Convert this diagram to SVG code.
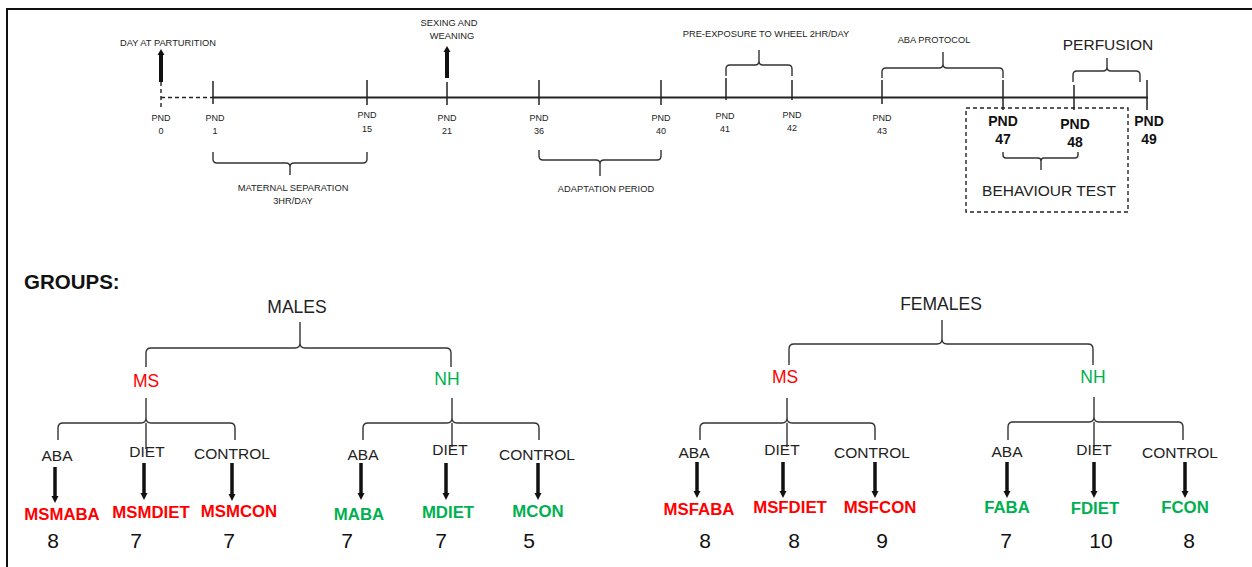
<svg xmlns="http://www.w3.org/2000/svg" width="1252" height="567" viewBox="0 0 1252 567">
<defs>
<style>
text{font-family:"Liberation Sans",Arial,sans-serif;text-anchor:middle;fill:#222}
.s{font-size:9.3px;fill:#222}
.p{font-size:9px;fill:#222}
.pb{font-size:14px;font-weight:bold;fill:#111}
.big{font-size:15.5px}
.sex{font-size:17.5px}
.cat{font-size:15.5px;fill:#222}
.red{fill:#FF0000}
.grn{fill:#00B050}
.g{font-size:16.8px;font-weight:bold}
.n{font-size:21px;fill:#111}
.br{fill:none;stroke:#333;stroke-width:1.4}
.tick{stroke:#222;stroke-width:1.5}
.arr{stroke:#111;stroke-width:3.5}
.arrt{stroke:#111;stroke-width:4}
.dash{fill:none;stroke:#222;stroke-width:1.4;stroke-dasharray:4 3}
</style>
</defs>
<rect width="1252" height="567" fill="#fff"/>
<path d="M7,567 V9 H1252" fill="none" stroke="#111" stroke-width="2"/>

<g id="connectors">
<line x1="213" y1="97.5" x2="1148" y2="97.5" stroke="#222" stroke-width="2"/>
<line x1="161" y1="97.5" x2="213" y2="97.5" class="dash"/>
<line x1="161" y1="82" x2="161" y2="107" class="dash"/>
<line x1="213" y1="81" x2="213" y2="104" class="tick"/>
<line x1="367" y1="80" x2="367" y2="105" class="tick"/>
<line x1="447" y1="82" x2="447" y2="105" class="tick"/>
<line x1="539" y1="80" x2="539" y2="105" class="tick"/>
<line x1="661" y1="80" x2="661" y2="105" class="tick"/>
<line x1="726" y1="78" x2="726" y2="100" class="tick"/>
<line x1="792" y1="80" x2="792" y2="100" class="tick"/>
<line x1="882" y1="80" x2="882" y2="104" class="tick"/>
<line x1="1003" y1="80" x2="1003" y2="110" class="tick"/>
<line x1="1074" y1="85" x2="1074" y2="110" class="tick"/>
<line x1="1147" y1="80" x2="1147" y2="110" class="tick"/>
<line x1="161" y1="82" x2="161" y2="54" class="arrt"/>
<polygon points="157.5,55 164.5,55 161,49" fill="#111"/>
<line x1="447" y1="78" x2="447" y2="51" class="arrt"/>
<polygon points="443.5,52 450.5,52 447,46" fill="#111"/>
<path class="br" d="M213,152 V159 Q213,163 217,163 H286 Q290,163 290,167 V175 M290,167 Q290,163 294,163 H363 Q367,163 367,159 V152"/>
<path class="br" d="M539,150 V156 Q539,160 543,160 H596 Q600,160 600,164 V176 M600,164 Q600,160 604,160 H657 Q661,160 661,156 V150"/>
<path class="br" d="M726,76 V69 Q726,65 730,65 H755 Q759,65 759,61 V50 M759,61 Q759,65 763,65 H788 Q792,65 792,69 V76"/>
<path class="br" d="M882,78 V72 Q882,68 886,68 H939 Q943,68 943,64 V52 M943,64 Q943,68 947,68 H999 Q1003,68 1003,72 V78"/>
<path class="br" d="M1073,82 V75 Q1073,71 1077,71 H1103 Q1107,71 1107,67 V58 M1107,67 Q1107,71 1111,71 H1136 Q1140,71 1140,75 V82"/>
<path class="br" d="M1003,152 V155 Q1003,158 1006,158 H1038 Q1041,158 1041,161 V170 M1041,161 Q1041,158 1044,158 H1075 Q1078,158 1078,155 V152"/>
<rect x="966" y="108" width="162" height="104" class="dash"/>
<path class="br" d="M146,367 V353 Q146,348 151,348 H295 Q300,348 300,343 V322 M300,343 Q300,348 305,348 H446 Q451,348 451,353 V367"/>
<path class="br" d="M789,365 V349 Q789,344 794,344 H937 Q942,344 942,339 V320 M942,339 Q942,344 947,344 H1088 Q1093,344 1093,349 V365"/>
<path class="br" d="M58,440 V428 Q58,423 63,423 H141 Q146,423 146,418 V398 M146,418 Q146,423 151,423 H230 Q235,423 235,428 V440 M146,423 V449"/>
<path class="br" d="M363,440 V428 Q363,423 368,423 H447 Q452,423 452,418 V398 M452,418 Q452,423 457,423 H534 Q539,423 539,428 V440 M452,423 V447"/>
<path class="br" d="M700,440 V428 Q700,423 705,423 H782 Q787,423 787,418 V398 M787,418 Q787,423 792,423 H870 Q875,423 875,428 V440 M787,423 V447"/>
<path class="br" d="M1008,440 V427 Q1008,422 1013,422 H1089 Q1094,422 1094,417 V397 M1094,417 Q1094,422 1099,422 H1178 Q1183,422 1183,427 V440 M1094,422 V447"/>
<g fill="#111">
<line x1="55" y1="467" x2="55" y2="497" class="arr"/><polygon points="51.5,496 58.5,496 55,503"/>
<line x1="144" y1="463" x2="144" y2="494" class="arr"/><polygon points="140.5,493 147.5,493 144,500"/>
<line x1="232" y1="463" x2="232" y2="495" class="arr"/><polygon points="228.5,494 235.5,494 232,501"/>
<line x1="361" y1="463" x2="361" y2="494" class="arr"/><polygon points="357.5,493 364.5,493 361,500"/>
<line x1="446" y1="463" x2="446" y2="494" class="arr"/><polygon points="442.5,493 449.5,493 446,500"/>
<line x1="538" y1="463" x2="538" y2="494" class="arr"/><polygon points="534.5,493 541.5,493 538,500"/>
<line x1="697" y1="462" x2="697" y2="492" class="arr"/><polygon points="693.5,491 700.5,491 697,498"/>
<line x1="783" y1="462" x2="783" y2="492" class="arr"/><polygon points="779.5,491 786.5,491 783,498"/>
<line x1="875" y1="462" x2="875" y2="492" class="arr"/><polygon points="871.5,491 878.5,491 875,498"/>
<line x1="1007" y1="462" x2="1007" y2="492" class="arr"/><polygon points="1003.5,491 1010.5,491 1007,498"/>
<line x1="1094" y1="462" x2="1094" y2="492" class="arr"/><polygon points="1090.5,491 1097.5,491 1094,498"/>
<line x1="1185" y1="462" x2="1185" y2="492" class="arr"/><polygon points="1181.5,491 1188.5,491 1185,498"/>
</g>
</g>

<g id="timeline-labels">
<text class="s" x="168" y="46">DAY AT PARTURITION</text>
<text class="s" x="449" y="26">SEXING AND</text>
<text class="s" x="452" y="39">WEANING</text>
<text class="s" x="766" y="37">PRE-EXPOSURE TO WHEEL 2HR/DAY</text>
<text class="s" x="934" y="43">ABA PROTOCOL</text>
<text class="big" x="1108" y="50">PERFUSION</text>
<text class="s" x="293" y="191">MATERNAL SEPARATION</text>
<text class="s" x="293" y="204">3HR/DAY</text>
<text class="s" x="606" y="192">ADAPTATION PERIOD</text>
<text class="big" x="1049" y="196">BEHAVIOUR TEST</text>
</g>

<g id="pnd-labels">
<text class="p" x="161" y="121">PND</text><text class="p" x="161" y="134">0</text>
<text class="p" x="215" y="121">PND</text><text class="p" x="215" y="134">1</text>
<text class="p" x="367" y="118">PND</text><text class="p" x="367" y="132">15</text>
<text class="p" x="447" y="121">PND</text><text class="p" x="447" y="134">21</text>
<text class="p" x="539" y="121">PND</text><text class="p" x="539" y="134">36</text>
<text class="p" x="661" y="121">PND</text><text class="p" x="661" y="134">40</text>
<text class="p" x="725" y="119">PND</text><text class="p" x="725" y="132">41</text>
<text class="p" x="792" y="118">PND</text><text class="p" x="792" y="131">42</text>
<text class="p" x="882" y="121">PND</text><text class="p" x="882" y="134">43</text>
<text class="pb" x="1003" y="126">PND</text><text class="pb" x="1003" y="144">47</text>
<text class="pb" x="1075" y="129">PND</text><text class="pb" x="1075" y="147">48</text>
<text class="pb" x="1149" y="126">PND</text><text class="pb" x="1149" y="144">49</text>
</g>

<g id="groups-title"><text x="24" y="289" style="text-anchor:start;font-size:20.5px;font-weight:bold;fill:#111">GROUPS:</text></g>
<g id="males"><text class="sex" x="297" y="313">MALES</text></g>
<g id="females"><text class="sex" x="941" y="310">FEMALES</text></g>

<g id="male-ms"><text class="sex red" x="146" y="387">MS</text></g>
<g id="male-nh"><text class="sex grn" x="447" y="385">NH</text></g>
<g id="female-ms"><text class="sex red" x="785" y="383">MS</text></g>
<g id="female-nh"><text class="sex grn" x="1093" y="383">NH</text></g>

<g id="male-ms-children">
<text class="cat" x="57" y="461">ABA</text>
<text class="cat" x="147" y="457">DIET</text>
<text class="cat" x="232" y="459">CONTROL</text>
<text class="g red" x="62" y="520">MSMABA</text>
<text class="g red" x="151" y="518">MSMDIET</text>
<text class="g red" x="239" y="517">MSMCON</text>
<text class="n" x="53" y="548">8</text>
<text class="n" x="136" y="548">7</text>
<text class="n" x="229" y="548">7</text>
</g>
<g id="male-nh-children">
<text class="cat" x="363" y="460">ABA</text>
<text class="cat" x="450" y="455">DIET</text>
<text class="cat" x="537" y="460">CONTROL</text>
<text class="g grn" x="359" y="520">MABA</text>
<text class="g grn" x="448" y="518">MDIET</text>
<text class="g grn" x="538" y="517">MCON</text>
<text class="n" x="347" y="548">7</text>
<text class="n" x="441" y="548">7</text>
<text class="n" x="529" y="548">5</text>
</g>
<g id="female-ms-children">
<text class="cat" x="694" y="458">ABA</text>
<text class="cat" x="782" y="455">DIET</text>
<text class="cat" x="872" y="458">CONTROL</text>
<text class="g red" x="699" y="515">MSFABA</text>
<text class="g red" x="790" y="513">MSFDIET</text>
<text class="g red" x="880" y="513">MSFCON</text>
<text class="n" x="705" y="548">8</text>
<text class="n" x="794" y="548">8</text>
<text class="n" x="882" y="548">9</text>
</g>
<g id="female-nh-children">
<text class="cat" x="1007" y="457">ABA</text>
<text class="cat" x="1094" y="455">DIET</text>
<text class="cat" x="1180" y="458">CONTROL</text>
<text class="g grn" x="1007" y="513">FABA</text>
<text class="g grn" x="1095" y="514">FDIET</text>
<text class="g grn" x="1185" y="513">FCON</text>
<text class="n" x="1006" y="548">7</text>
<text class="n" x="1101" y="548">10</text>
<text class="n" x="1189" y="548">8</text>
</g>
</svg>
